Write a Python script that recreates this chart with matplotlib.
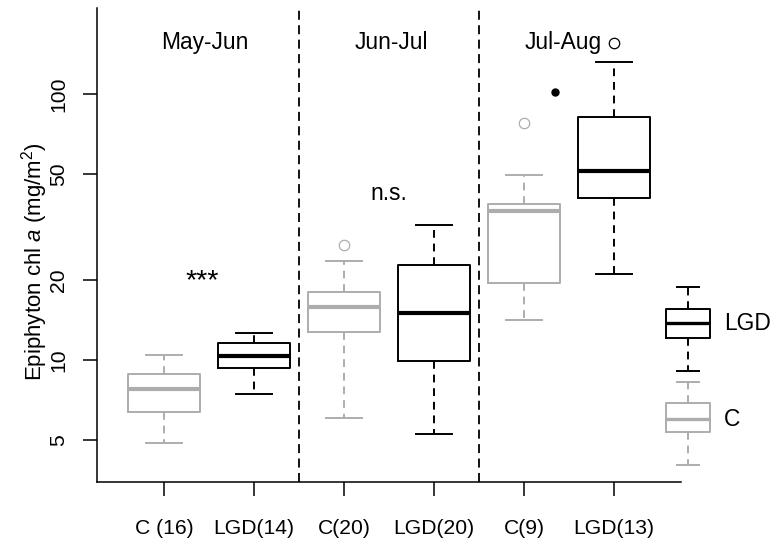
import matplotlib
matplotlib.use("Agg")
import matplotlib.pyplot as plt

plt.rcParams['font.family'] = ['Liberation Sans', 'DejaVu Sans']
plt.rcParams['mathtext.fontset'] = 'custom'
plt.rcParams['mathtext.rm'] = 'Liberation Sans'
plt.rcParams['mathtext.it'] = 'Liberation Sans:italic'

# Epiphyton chlorophyll a per sampling period and treatment
groups = ['C (16)', 'LGD(14)', 'C(20)', 'LGD(20)', 'C(9)', 'LGD(13)']
treat = ['C', 'LGD', 'C', 'LGD', 'C', 'LGD']
whislo = [4.86, 7.47, 6.04, 5.26, 14.1, 21.0]
q1 = [6.36, 9.33, 12.74, 9.94, 19.5, 40.7]
med = [7.78, 10.38, 15.86, 14.98, 36.4, 51.3]
q3 = [8.84, 11.61, 18.06, 22.76, 38.7, 81.7]
whishi = [10.44, 12.66, 23.5, 32.17, 49.6, 132.2]
fliers = [[], [], [27.05], [], [77.6], [155.1]]

# extra observation shown as a filled dot in Jul-Aug
extra_x = [5.34]
extra_y = [102.0]

periods = ['May-Jun', 'Jun-Jul', 'Jul-Aug']
period_x = [1.45, 3.53, 5.43]
period_y = 148.0

tests = ['***', 'n.s.']
test_x = [1.42, 3.5]
test_y = [18.6, 40.0]
test_size = [20.5, 16.4]

# key boxes at the right edge
key_names = ['LGD', 'C']
key_stats = {
    'LGD': dict(whislo=9.12, q1=12.06, med=13.74, q3=15.6, whishi=18.86),
    'C': dict(whislo=4.03, q1=5.35, med=5.99, q3=6.91, whishi=8.29),
}

yticks = [5, 10, 20, 50, 100]

colors = {'C': '#ADADAD', 'LGD': '#000000'}

W, H = 773, 542
fig = plt.figure(figsize=(W / 100, H / 100), dpi=100)
left, right, top, bottom = 97.4, 680.6, 8.3, 482.0
ax = fig.add_axes([left / W, 1 - bottom / H, (right - left) / W, (bottom - top) / H])

ax.set_yscale('log')
ax.set_xlim(0.26, 6.74)
ax.set_ylim(3.478, 210.1)


def draw(ax, stats, pos, width, color, medlw, clip=True):
    art = ax.bxp(
        [stats], positions=[pos], widths=width, manage_ticks=False,
        boxprops=dict(color=color, linewidth=1.4),
        medianprops=dict(color=color, linewidth=medlw, solid_capstyle='butt'),
        whiskerprops=dict(color=color, linewidth=1.4, linestyle=(0, (4, 3))),
        capprops=dict(color=color, linewidth=1.4),
        flierprops=dict(marker='o', markerfacecolor='none', markeredgecolor=color,
                        markersize=7.5, markeredgewidth=0.9, linestyle='none'),
        capwidths=width / 2,
    )
    if not clip:
        for items in art.values():
            for a in items:
                a.set_clip_on(False)
    return art


for i in range(len(groups)):
    st = dict(whislo=whislo[i], q1=q1[i], med=med[i], q3=q3[i],
              whishi=whishi[i], fliers=fliers[i])
    draw(ax, st, i + 1, 0.8, colors[treat[i]], 3.0)

ax.plot(extra_x, extra_y, 'o', color='black', markersize=5, clip_on=False)

for xs in [2.5, 4.5]:
    ax.axvline(xs, color='black', linewidth=1.3, linestyle=(0, (5, 3)))

for name, xp in zip(periods, period_x):
    ax.text(xp, period_y, name, ha='center', va='baseline', fontsize=16.4)
for name, xp, yp, fs in zip(tests, test_x, test_y, test_size):
    ax.text(xp, yp, name, ha='center', va='baseline', fontsize=fs)

key_x = 6.826
for name in key_names:
    st = dict(key_stats[name], fliers=[])
    draw(ax, st, key_x, 0.49, colors[name], 2.4, clip=False)
    ax.text(7.22, key_stats[name]['med'], name, ha='left', va='center',
            fontsize=16.4, clip_on=False)

ax.set_xticks(range(1, len(groups) + 1))
ax.set_xticklabels(groups, fontsize=15.2)
ax.set_yticks(yticks)
ax.set_yticklabels([str(v) for v in yticks], fontsize=15.2, rotation=90, va='center')
ax.yaxis.set_minor_locator(matplotlib.ticker.NullLocator())
ax.tick_params(axis='both', length=10, width=1.1, color='black')
ax.tick_params(axis='x', pad=17)
ax.tick_params(axis='y', pad=11)

for s in ['top', 'right']:
    ax.spines[s].set_visible(False)
for s in ['left', 'bottom']:
    ax.spines[s].set_linewidth(1.1)

fig.text(35 / W, 1 - 262 / H, r'Epiphyton chl $\mathit{a}$ (mg/m$^2$)',
         rotation=90, ha='center', va='center', fontsize=16.0)

fig.savefig('out.png', dpi=100)
